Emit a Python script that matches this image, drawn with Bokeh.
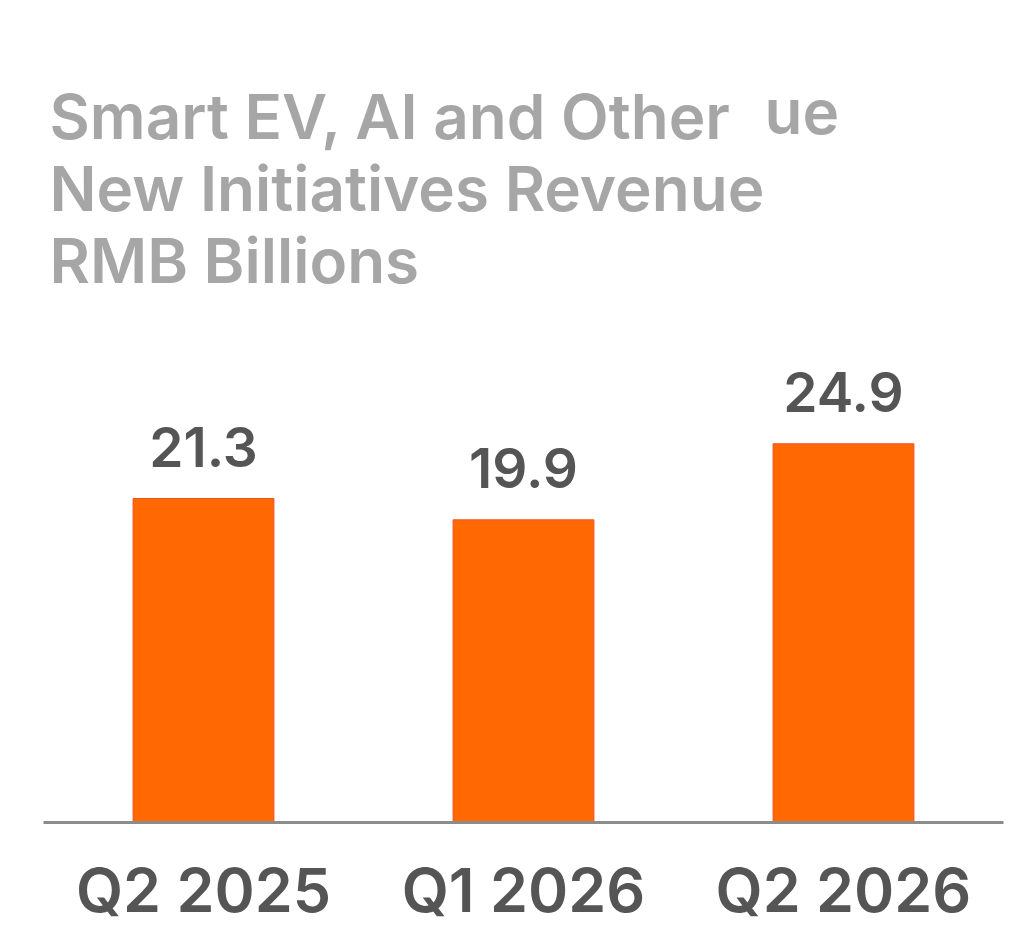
from bokeh.plotting import figure
from bokeh.models import Range1d, FactorRange, Label, ColumnDataSource
from bokeh.core.properties import value
from bokeh.embed import file_html
from bokeh.resources import INLINE

categories = ["Q2 2025", "Q1 2026", "Q2 2026"]
revenue = [21.3, 19.9, 24.9]
value_labels = ["21.3", "19.9", "24.9"]
title_lines = ["Smart EV, AI and Other", "New Initiatives Revenue", "RMB Billions"]
title_fragment = "ue"

FONT = "Inter SemiBold"
PX_PER_UNIT = 15.21
FRAME_H = 814
FRAME_W = 960
LEFT = 43
TOP = 8

src = ColumnDataSource(dict(x=categories, top=revenue, label=value_labels))

p = figure(width=LEFT + FRAME_W + 12, height=TOP + FRAME_H + 116,
           output_backend="svg", toolbar_location=None,
           x_range=FactorRange(*categories), y_range=Range1d(0, FRAME_H / PX_PER_UNIT),
           min_border_left=LEFT, min_border_right=12, min_border_top=TOP,
           min_border_bottom=116)
p.outline_line_color = None
p.background_fill_color = "white"
p.border_fill_color = "white"
p.xgrid.grid_line_color = None
p.ygrid.grid_line_color = None
p.yaxis.visible = False

p.vbar(x="x", top="top", width=0.44, source=src,
       fill_color="#ff6803", line_color="#f4511e", line_width=1)

p.text(x="x", y="top", text="label", source=src, text_align="center",
       text_baseline="alphabetic", y_offset=-52, text_font=value(FONT),
       text_font_size="55px", text_color="#555555")

ax = p.xaxis[0]
ax.axis_line_color = "#8c8c8c"
ax.axis_line_width = 3
ax.major_tick_line_color = None
ax.minor_tick_line_color = None
ax.major_tick_out = 0
ax.major_tick_in = 0
ax.major_label_standoff = 30
ax.major_label_text_font = FONT
ax.major_label_text_font_size = "61px"
ax.major_label_text_color = "#555555"


def to_data(px, py):
    # page-pixel position -> data coords (frame left at 43, bottom at 822)
    return (px - 43) / (FRAME_W / 3), (822 - py) / PX_PER_UNIT


baselines = [116, 188, 260]
for line, by in zip(title_lines, baselines):
    x, y = to_data(49, by)
    p.add_layout(Label(x=x, y=y, text=line, text_font=FONT, text_font_size="62px",
                       text_color="#a6a6a6", text_baseline="alphabetic"))
x, y = to_data(764, 111)
p.add_layout(Label(x=x, y=y, text=title_fragment, text_font=FONT, text_font_size="62px",
                   text_color="#a6a6a6", text_baseline="alphabetic"))

open("out.html", "w").write(file_html(p, INLINE))
